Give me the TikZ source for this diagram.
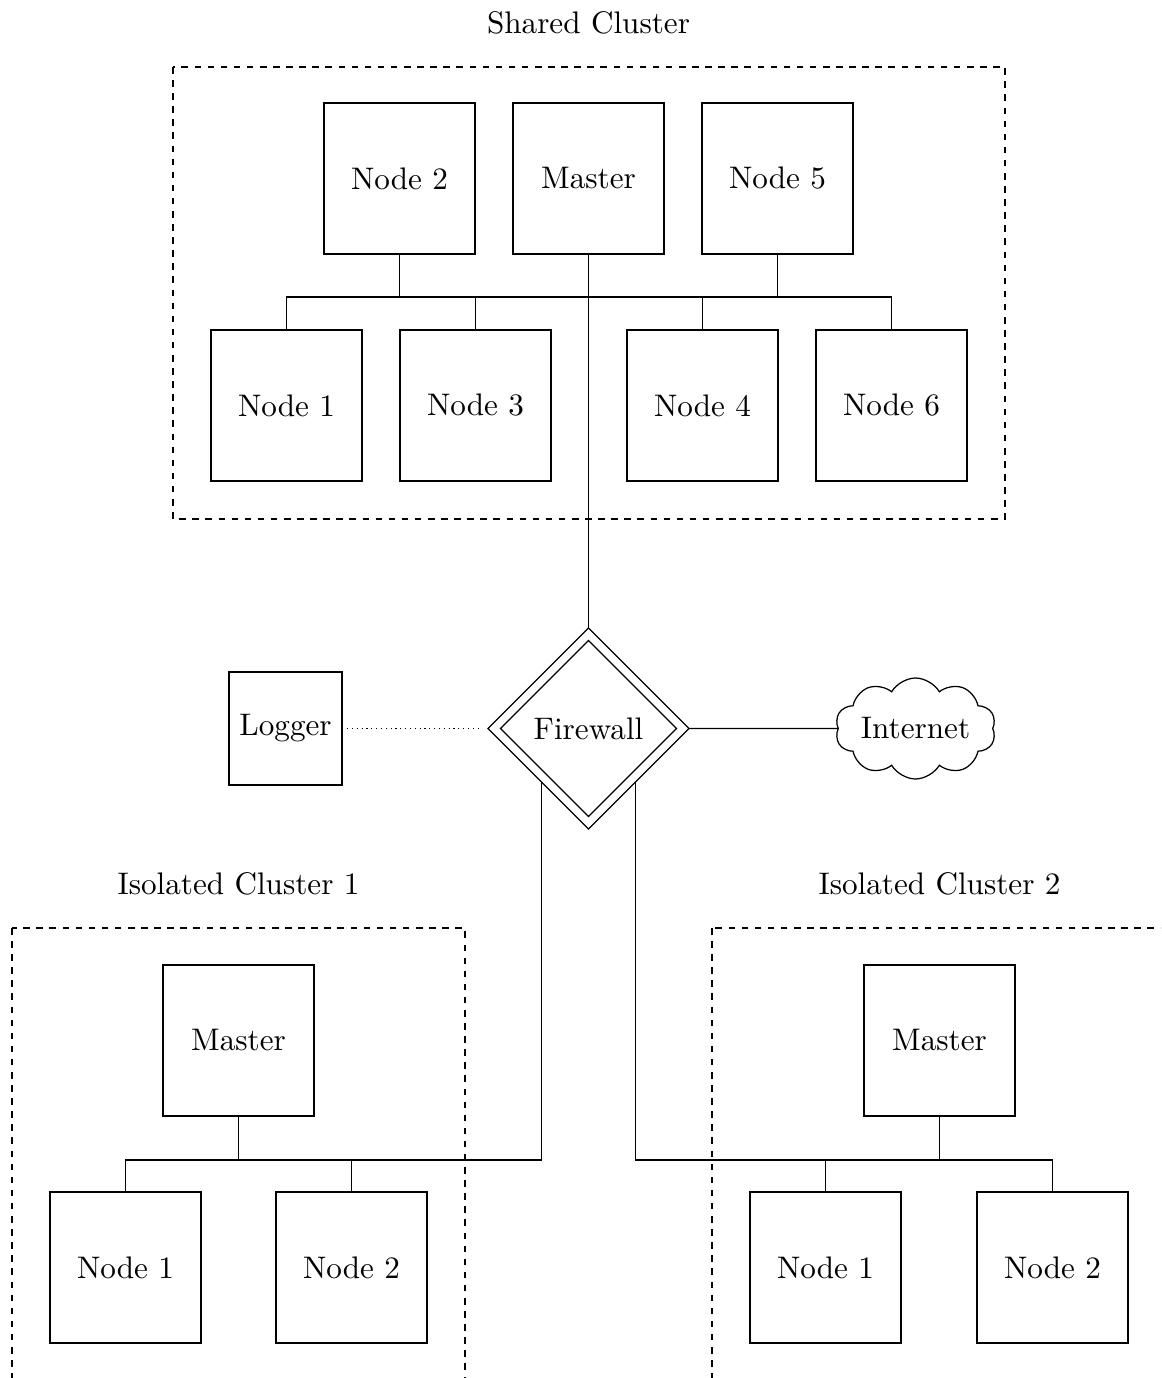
\documentclass[tikz,border=0pt]{standalone}
\usetikzlibrary{shapes.geometric,shapes.symbols}

\tikzset{
  unit/.style={draw, line width=0.4pt, minimum size=48.4pt, inner sep=0pt, outer sep=0pt},
  logbox/.style={draw, line width=0.4pt, minimum size=36.3pt, inner sep=0pt, outer sep=0pt},
  gate/.style={draw, diamond, aspect=1, line width=0.4pt, inner sep=0pt, outer sep=0pt},
  netcloud/.style={draw, cloud, cloud puffs=10, cloud puff arc=120, aspect=2,
    minimum width=51.3pt, minimum height=29pt, inner sep=0pt, outer sep=0pt},
  clusterframe/.style={line width=0.4pt, dash pattern=on 2.1pt off 2.1pt},
  link/.style={line width=0.4pt},
  loglink/.style={line width=0.4pt, dash pattern=on 0.4pt off 1.15pt},
  caption/.style={anchor=base, inner sep=0pt}
}

\begin{document}
\begin{tikzpicture}[x=0.3208pt, y=-0.3208pt]
  \useasboundingbox (0,0) rectangle (1161,1378);
  \clip (0,0) rectangle (1161,1378);

  % cluster frames
  \draw[clusterframe] (173,67) rectangle (1005,519);
  \draw[clusterframe] (12,928) rectangle (465,1420);
  \draw[clusterframe] (712,928) rectangle (1220,1420);

  % cluster titles
  \node[caption] (tshared) at (588.5,34) {Shared Cluster};
  \node[caption] (tiso1) at (238.5,894) {Isolated Cluster 1};
  \node[caption] (tiso2) at (939.5,894) {Isolated Cluster 2};

  % shared cluster
  \node[unit] (s2) at (399.5,178.5) {Node 2};
  \node[unit] (sm) at (588.5,178.5) {Master};
  \node[unit] (s5) at (777.5,178.5) {Node 5};
  \node[unit] (s1) at (286.5,405.5) {Node 1};
  \node[unit] (s3) at (475.5,405.5) {Node 3};
  \node[unit] (s4) at (702.5,405.5) {Node 4};
  \node[unit] (s6) at (891.5,405.5) {Node 6};
  \coordinate (sbus) at (588.5,297);

  % firewall, logger, internet
  \node[gate, minimum size=64.5pt] (fw) at (588.5,728.5) {Firewall};
  \node[gate, minimum size=56.5pt] (fwinner) at (fw.center) {};
  \node[logbox] (lg) at (285.5,728.5) {Logger};
  \node[netcloud] (net) at (915.5,728.5) {Internet};

  % isolated cluster 1
  \node[unit] (i1m) at (238.5,1040.5) {Master};
  \node[unit] (i1n1) at (125.5,1267.5) {Node 1};
  \node[unit] (i1n2) at (351.5,1267.5) {Node 2};
  \coordinate (i1bus) at (238.5,1160);

  % isolated cluster 2
  \node[unit] (i2m) at (939.5,1040.5) {Master};
  \node[unit] (i2n1) at (825.5,1267.5) {Node 1};
  \node[unit] (i2n2) at (1052.5,1267.5) {Node 2};
  \coordinate (i2bus) at (939.5,1160);

  % shared cluster bus
  \draw[link] (s1.north) -- (s1 |- sbus) -- (s6 |- sbus) -- (s6.north);
  \draw[link] (s3.north) -- (s3 |- sbus);
  \draw[link] (s4.north) -- (s4 |- sbus);
  \draw[link] (s2.south) -- (s2 |- sbus);
  \draw[link] (s5.south) -- (s5 |- sbus);
  \draw[link] (sm.south) -- (fw.north);

  % firewall links
  \draw[loglink, shorten <=1.6pt, shorten >=3pt] (lg.east) -- (fw.west);
  \draw[link] (fw.east) -- (net.west);

  % isolated cluster 1 bus
  \draw[link] (fw.-131) |- (i1n1 |- i1bus) -- (i1n1.north);
  \draw[link] (i1m.south) -- (i1m |- i1bus);
  \draw[link] (i1n2.north) -- (i1n2 |- i1bus);

  % isolated cluster 2 bus
  \draw[link] (fw.-49) |- (i2n2 |- i2bus) -- (i2n2.north);
  \draw[link] (i2m.south) -- (i2m |- i2bus);
  \draw[link] (i2n1.north) -- (i2n1 |- i2bus);
\end{tikzpicture}
\end{document}
